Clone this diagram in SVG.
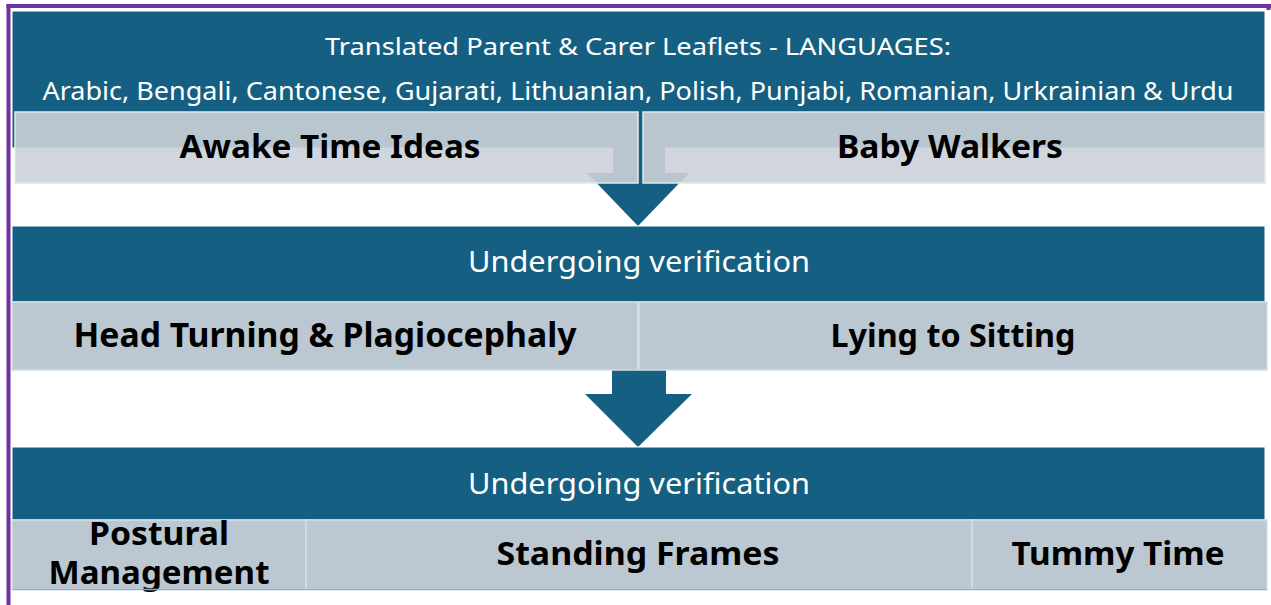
<svg xmlns="http://www.w3.org/2000/svg" width="1271" height="605" viewBox="0 0 1271 605">
<style>
.dark{fill:#156082;stroke:#ffffff;stroke-width:1}
.grey{fill:#cbd1d8;fill-opacity:0.9;stroke:#e4e8ec;stroke-width:1.5}
.grey2{fill:#bbc7d1;stroke:#d6dde3;stroke-width:1.5}
.base{stroke:#8fadc2;stroke-width:1.5}
.arrow{fill:#156082}
.wt{font-family:"Noto Sans","Open Sans",sans-serif;fill:#ffffff;text-anchor:middle}
.bt{font-family:"Noto Sans","Open Sans",sans-serif;font-weight:bold;fill:#000000;text-anchor:middle}
.nt{font-family:"Liberation Sans Narrow","Noto Sans",sans-serif;font-weight:bold;fill:#000000;text-anchor:middle}
.frame{stroke:#7030a0;stroke-width:4;fill:none}
</style>
<rect width="1271" height="605" fill="#ffffff"/>
<g id="frame">
<line class="frame" x1="8.5" y1="4" x2="8.5" y2="605"/>
<line class="frame" x1="6.5" y1="6" x2="1271" y2="6"/>
<line class="frame" x1="1268.5" y1="4" x2="1268.5" y2="10"/>
</g>
<g id="languages">
<rect class="dark" x="12" y="11" width="1253" height="137"/>
<text class="wt" x="638" y="55" font-size="23" textLength="626" lengthAdjust="spacingAndGlyphs">Translated Parent &amp; Carer Leaflets - LANGUAGES:</text>
<text class="wt" x="638" y="100" font-size="25" textLength="1191" lengthAdjust="spacingAndGlyphs">Arabic, Bengali, Cantonese, Gujarati, Lithuanian, Polish, Punjabi, Romanian, Urkrainian &amp; Urdu</text>
</g>
<g id="connectors">
<polygon class="arrow" points="613,112 665,112 665,173 689,173 638,226 587,173 613,173"/>
<polygon class="arrow" points="612,370 666,370 666,394 692,394 638,447 585,394 612,394"/>
</g>
<g id="awake-time-ideas">
<rect class="grey" x="15" y="112" width="623" height="71"/>
<text class="bt" x="330" y="158" font-size="32" textLength="301" lengthAdjust="spacingAndGlyphs">Awake Time Ideas</text>
</g>
<g id="baby-walkers">
<rect class="grey" x="643" y="112" width="622" height="71"/>
<text class="bt" x="950" y="158" font-size="32" textLength="226" lengthAdjust="spacingAndGlyphs">Baby Walkers</text>
</g>
<g id="verification-1">
<rect class="dark" x="12" y="226" width="1253" height="76"/>
<text class="wt" x="639" y="272" font-size="29" textLength="342" lengthAdjust="spacingAndGlyphs">Undergoing verification</text>
</g>
<g id="head-turning">
<rect class="grey2" x="12" y="302" width="626" height="68"/>
<text class="nt" x="325" y="347" font-size="34" textLength="503" lengthAdjust="spacingAndGlyphs">Head Turning &amp; Plagiocephaly</text>
</g>
<g id="lying-to-sitting">
<rect class="grey2" x="639" y="302" width="628" height="68"/>
<text class="bt" x="953" y="347" font-size="32" textLength="245" lengthAdjust="spacingAndGlyphs">Lying to Sitting</text>
</g>
<g id="verification-2">
<rect class="dark" x="12" y="447" width="1253" height="73"/>
<text class="wt" x="639" y="494" font-size="29" textLength="342" lengthAdjust="spacingAndGlyphs">Undergoing verification</text>
</g>
<g id="postural-management">
<rect class="grey2" x="12" y="520" width="294" height="69"/>
<text class="bt" x="159" y="545" font-size="32" textLength="140" lengthAdjust="spacingAndGlyphs">Postural</text>
<text class="bt" x="159" y="584" font-size="32" textLength="221" lengthAdjust="spacingAndGlyphs">Management</text>
</g>
<g id="standing-frames">
<rect class="grey2" x="306" y="520" width="666" height="69"/>
<text class="bt" x="638" y="565" font-size="32" textLength="283" lengthAdjust="spacingAndGlyphs">Standing Frames</text>
</g>
<g id="tummy-time">
<rect class="grey2" x="972" y="520" width="295" height="69"/>
<text class="bt" x="1118" y="565" font-size="32" textLength="213" lengthAdjust="spacingAndGlyphs">Tummy Time</text>
</g>
<line class="base" x1="12" y1="589.5" x2="1267" y2="589.5"/>
</svg>
